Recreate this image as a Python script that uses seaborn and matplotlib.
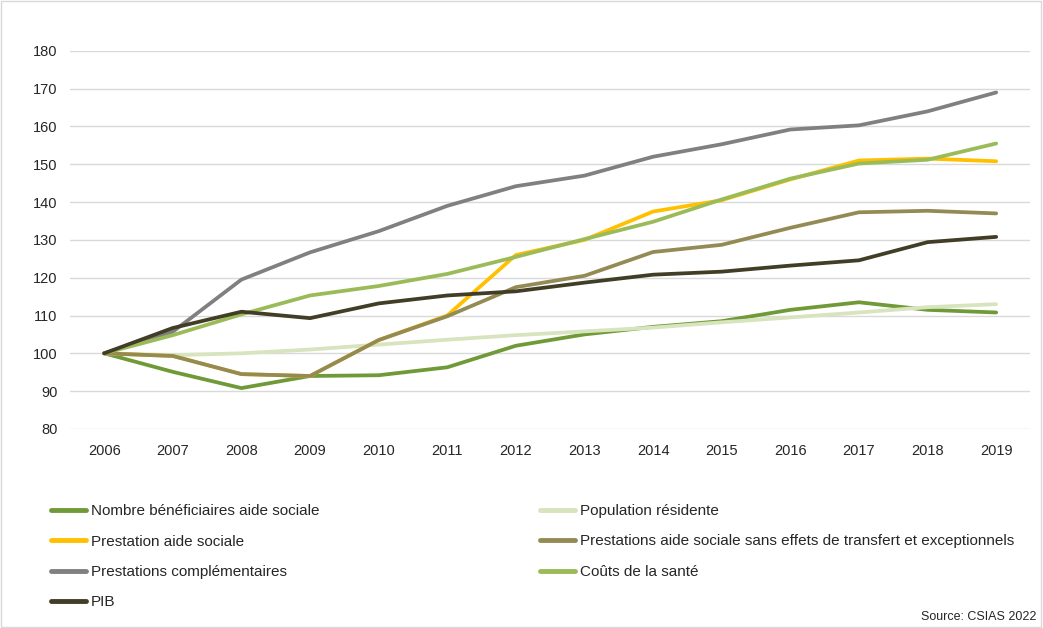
import pandas as pd
import matplotlib.pyplot as plt
import seaborn as sns
from matplotlib.patches import Rectangle

# Index values (2006 = 100)
years = list(range(2006, 2020))
nombre_beneficiaires = [100, 95.1, 90.8, 94.0, 94.2, 96.3, 102.0, 105.0, 107.0, 108.5, 111.5, 113.5, 111.5, 110.8]
population = [100, 99.5, 100.0, 101.0, 102.3, 103.6, 104.8, 105.8, 106.8, 108.2, 109.5, 110.8, 112.2, 113.0]
prestation_aide = [100, 99.3, 94.5, 94.0, 103.5, 110.0, 126.0, 130.0, 137.5, 140.5, 146.0, 151.0, 151.5, 150.8]
prestations_sans = [100, 99.3, 94.5, 94.0, 103.5, 109.8, 117.5, 120.5, 126.8, 128.7, 133.2, 137.3, 137.7, 137.0]
prestations_compl = [100, 105.7, 119.5, 126.7, 132.3, 139.0, 144.2, 147.0, 152.0, 155.3, 159.2, 160.3, 164.0, 169.0]
couts_sante = [100, 104.8, 110.3, 115.3, 117.8, 121.0, 125.5, 130.2, 134.8, 140.7, 146.2, 150.2, 151.2, 155.5]
pib = [100, 106.7, 111.0, 109.3, 113.2, 115.3, 116.4, 118.7, 120.8, 121.6, 123.2, 124.6, 129.4, 130.8]

series = {
    "Nombre bénéficiaires aide sociale": nombre_beneficiaires,
    "Population résidente": population,
    "Prestation aide sociale": prestation_aide,
    "Prestations aide sociale sans effets de transfert et exceptionnels": prestations_sans,
    "Prestations complémentaires": prestations_compl,
    "Coûts de la santé": couts_sante,
    "PIB": pib,
}
colors = ["#6f9a37", "#d7e4bd", "#ffc000", "#948a54", "#808080", "#9bbb59", "#423d26"]
names = list(series.keys())

df = pd.concat(
    [pd.DataFrame({"year": years, "value": v, "serie": k}) for k, v in series.items()],
    ignore_index=True,
)

sns.set_style("white")
plt.rcParams["font.family"] = ["Liberation Sans", "DejaVu Sans"]

fig = plt.figure(figsize=(10.43, 6.28), dpi=100)
ax = fig.add_axes([0.067, 0.317, 0.921, 0.602])

sns.lineplot(data=df, x="year", y="value", hue="serie", hue_order=names,
             palette=colors, linewidth=2.7, ax=ax, legend=False)

ax.set_xlim(2005.5, 2019.5)
ax.set_ylim(80, 180)
ax.set_xticks(years)
ax.set_yticks(range(80, 181, 10))
ax.tick_params(axis="both", length=0, labelsize=10.5, colors="#262626")
ax.tick_params(axis="x", pad=11)
ax.tick_params(axis="y", pad=9)
ax.grid(axis="y", color="#d9d9d9", linewidth=1)
ax.set_axisbelow(True)
ax.set_xlabel("")
ax.set_ylabel("")
sns.despine(ax=ax, left=True, bottom=True)

handles = [plt.Line2D([], [], color=c, linewidth=3.5) for c in colors]
left_idx = [0, 2, 4, 6]
right_idx = [1, 3, 5]
common = dict(frameon=False, fontsize=11, handlelength=2.3, handletextpad=0.3,
              labelspacing=1.08, borderaxespad=0, borderpad=0, loc="upper left")
leg1 = fig.legend([handles[i] for i in left_idx], [names[i] for i in left_idx],
                  bbox_to_anchor=(51 / 1043, 1 - 504 / 628), **common)
leg2 = fig.legend([handles[i] for i in right_idx], [names[i] for i in right_idx],
                  bbox_to_anchor=(540 / 1043, 1 - 504 / 628), **common)
for leg in (leg1, leg2):
    for t in leg.get_texts():
        t.set_color("#262626")

fig.text(1036 / 1043, 1 - 617 / 628, "Source: CSIAS 2022", ha="right", va="center",
         fontsize=9, color="#262626")

fig.patches.append(Rectangle((0.001, 0.002), 0.997, 0.996, transform=fig.transFigure,
                             fill=False, edgecolor="#d9d9d9", linewidth=1))

fig.savefig("out.png", dpi=100)
